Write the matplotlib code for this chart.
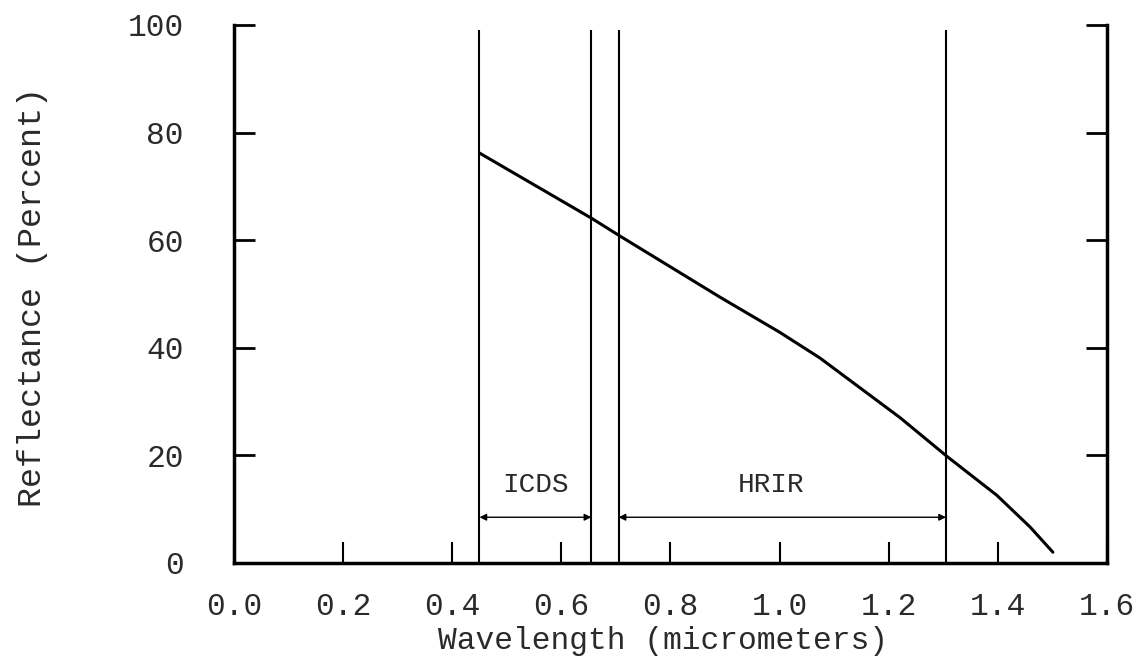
import matplotlib
matplotlib.use("Agg")
from matplotlib import pyplot as plt

# curve
wavelength = [0.45, 0.655, 0.707, 0.891, 1.0, 1.074, 1.221, 1.307, 1.398, 1.459, 1.501]
reflectance = [76.2, 64.1, 60.8, 49.4, 42.9, 38.1, 27.0, 19.8, 12.6, 6.7, 2.0]

# sensor bands
band_names = ["ICDS", "HRIR"]
band_start = [0.45, 0.705]
band_end = [0.655, 1.305]
band_label_x = [0.553, 0.985]
band_top = 99

x_ticks = [0.0, 0.2, 0.4, 0.6, 0.8, 1.0, 1.2, 1.4, 1.6]
x_labels = ["0.0", "0.2", "0.4", "0.6", "0.8", "1.0", "1.2", "1.4", "1.6"]
y_ticks = [0, 20, 40, 60, 80, 100]
y_labels = ["0", "20", "40", "60", "80", "100"]

TXT = '#2a2a2a'


def main():
    plt.rcParams['font.family'] = ['Liberation Mono', 'DejaVu Sans Mono']
    fig = plt.figure(figsize=(11.44, 6.59), dpi=100)
    ax = fig.add_axes([0.2045, 0.1457, 0.7631, 0.8164])

    ax.plot(wavelength, reflectance, color='black', lw=2.2, solid_capstyle='round')

    # band edges and arrows
    edges = band_start + band_end
    ax.vlines(edges, 0, band_top, color='black', lw=1.5)
    for name, a, b, lx in zip(band_names, band_start, band_end, band_label_x):
        ax.annotate("", xy=(a, 8.5), xytext=(b, 8.5),
                    arrowprops=dict(arrowstyle='<|-|>', color='black', lw=1.0,
                                    mutation_scale=10, shrinkA=0, shrinkB=0))
        ax.text(lx, 14.5, name, ha='center', va='center', fontsize=20, color=TXT)

    ax.set_xlim(0, 1.6)
    ax.set_ylim(0, 100)
    ax.set_xticks(x_ticks)
    ax.set_xticklabels(x_labels)
    ax.set_yticks(y_ticks)
    ax.set_yticklabels(y_labels)

    ax.spines['top'].set_visible(False)
    for s in ['left', 'right', 'bottom']:
        ax.spines[s].set_linewidth(2.5)
    ax.tick_params(axis='x', direction='in', length=15, width=1.5, pad=21, labelsize=22.5,
                   labelcolor=TXT)
    ax.tick_params(axis='y', direction='in', length=15, width=2.0, pad=36, labelsize=22.5,
                   left=True, right=True, labelcolor=TXT)

    ax.set_xlabel("Wavelength (micrometers)", fontsize=22.5, color=TXT)
    ax.set_ylabel("Reflectance (Percent)", fontsize=24, color=TXT)
    ax.xaxis.set_label_coords(0.491, -0.118)
    ax.yaxis.set_label_coords(-0.213, 0.495)

    fig.savefig("out.png", dpi=100)


if __name__ == "__main__":
    main()
